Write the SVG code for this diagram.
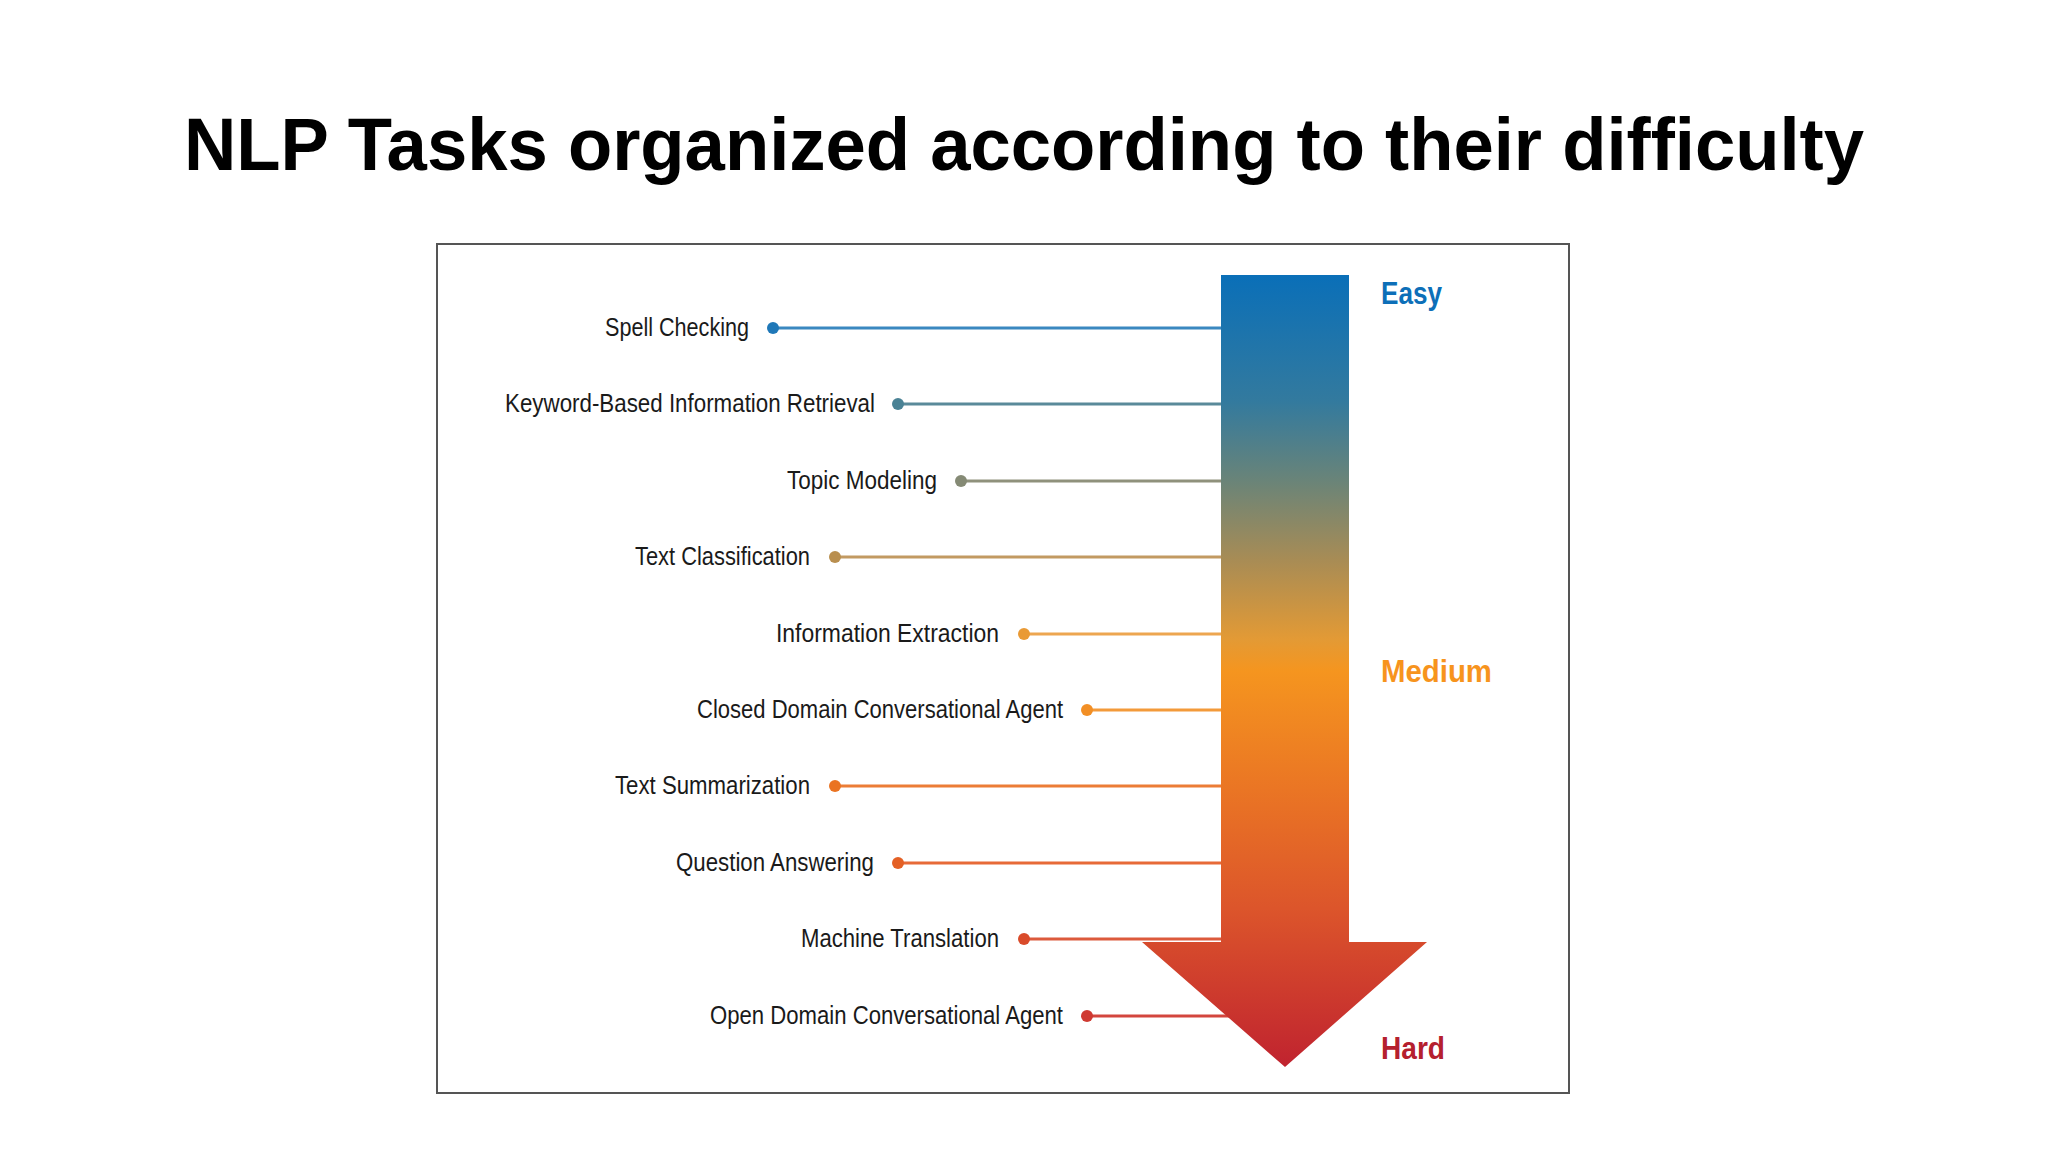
<svg xmlns="http://www.w3.org/2000/svg" width="2048" height="1152" viewBox="0 0 2048 1152">
<style>
.title{font-family:"Liberation Sans","Open Sans",sans-serif;font-weight:bold;font-size:74px;fill:#000}
.lbl{font-family:"Liberation Sans","Roboto",sans-serif;font-size:26.5px;fill:#1a1a1a;text-anchor:end}
.lvl{font-family:"Liberation Sans","Roboto",sans-serif;font-weight:bold;font-size:32px}
.conn{stroke-width:3;fill:none}
</style>
<defs>
<linearGradient id="g" gradientUnits="userSpaceOnUse" x1="0" y1="275" x2="0" y2="1067">
<stop offset="0" stop-color="#0a6fb8"/>
<stop offset="0.16" stop-color="#337a9e"/>
<stop offset="0.26" stop-color="#6a8478"/>
<stop offset="0.36" stop-color="#a88c55"/>
<stop offset="0.46" stop-color="#e39a35"/>
<stop offset="0.5" stop-color="#f5951f"/>
<stop offset="0.65" stop-color="#ea7524"/>
<stop offset="0.8" stop-color="#dc552b"/>
<stop offset="1" stop-color="#c0232f"/>
</linearGradient>
</defs>
<rect width="2048" height="1152" fill="#fff"/>
<text class="title" x="1024" y="170" text-anchor="middle" textLength="1680" lengthAdjust="spacingAndGlyphs">NLP Tasks organized according to their difficulty</text>
<rect id="frame" x="437" y="244" width="1132" height="849" fill="#fff" stroke="#555" stroke-width="2"/>
<g id="connectors">
<line class="conn" x1="773" y1="328" x2="1222" y2="328" stroke="#3a88c0"/>
<line class="conn" x1="898" y1="404" x2="1222" y2="404" stroke="#5a8a9a"/>
<line class="conn" x1="961" y1="481" x2="1222" y2="481" stroke="#8f917c"/>
<line class="conn" x1="835" y1="557" x2="1222" y2="557" stroke="#c29a62"/>
<line class="conn" x1="1024" y1="634" x2="1222" y2="634" stroke="#eda650"/>
<line class="conn" x1="1087" y1="710" x2="1222" y2="710" stroke="#f39a3a"/>
<line class="conn" x1="835" y1="786" x2="1222" y2="786" stroke="#ec7d36"/>
<line class="conn" x1="898" y1="863" x2="1222" y2="863" stroke="#e76a38"/>
<line class="conn" x1="1024" y1="939" x2="1222" y2="939" stroke="#dc5a3c"/>
<line class="conn" x1="1087" y1="1016" x2="1230" y2="1016" stroke="#d3463e"/>
</g>
<g id="arrow">
<polygon points="1221,275 1349,275 1349,942 1427,942 1285,1067 1142,942 1221,942" fill="url(#g)"/>
</g>
<g id="n1"><circle cx="773" cy="328" r="6" fill="#1f78b8"/><text class="lbl" x="749" y="336" textLength="144" lengthAdjust="spacingAndGlyphs">Spell Checking</text></g>
<g id="n2"><circle cx="898" cy="404" r="6" fill="#4a8295"/><text class="lbl" x="875" y="412" textLength="370" lengthAdjust="spacingAndGlyphs">Keyword-Based Information Retrieval</text></g>
<g id="n3"><circle cx="961" cy="481" r="6" fill="#858a75"/><text class="lbl" x="937" y="489" textLength="150" lengthAdjust="spacingAndGlyphs">Topic Modeling</text></g>
<g id="n4"><circle cx="835" cy="557" r="6" fill="#b98f4f"/><text class="lbl" x="810" y="565" textLength="175" lengthAdjust="spacingAndGlyphs">Text Classification</text></g>
<g id="n5"><circle cx="1024" cy="634" r="6" fill="#e99a35"/><text class="lbl" x="999" y="642" textLength="223" lengthAdjust="spacingAndGlyphs">Information Extraction</text></g>
<g id="n6"><circle cx="1087" cy="710" r="6" fill="#f28f25"/><text class="lbl" x="1063" y="718" textLength="366" lengthAdjust="spacingAndGlyphs">Closed Domain Conversational Agent</text></g>
<g id="n7"><circle cx="835" cy="786" r="6" fill="#ea7322"/><text class="lbl" x="810" y="794" textLength="195" lengthAdjust="spacingAndGlyphs">Text Summarization</text></g>
<g id="n8"><circle cx="898" cy="863" r="6" fill="#e46025"/><text class="lbl" x="874" y="871" textLength="198" lengthAdjust="spacingAndGlyphs">Question Answering</text></g>
<g id="n9"><circle cx="1024" cy="939" r="6" fill="#d94b2a"/><text class="lbl" x="999" y="947" textLength="198" lengthAdjust="spacingAndGlyphs">Machine Translation</text></g>
<g id="n10"><circle cx="1087" cy="1016" r="6" fill="#cf3a32"/><text class="lbl" x="1063" y="1024" textLength="353" lengthAdjust="spacingAndGlyphs">Open Domain Conversational Agent</text></g>
<g id="levels">
<text class="lvl" x="1381" y="304" fill="#0d6fb8" textLength="61" lengthAdjust="spacingAndGlyphs">Easy</text>
<text class="lvl" x="1381" y="682" fill="#f7941d" textLength="111" lengthAdjust="spacingAndGlyphs">Medium</text>
<text class="lvl" x="1381" y="1059" fill="#b5202e" textLength="64" lengthAdjust="spacingAndGlyphs">Hard</text>
</g>
</svg>
